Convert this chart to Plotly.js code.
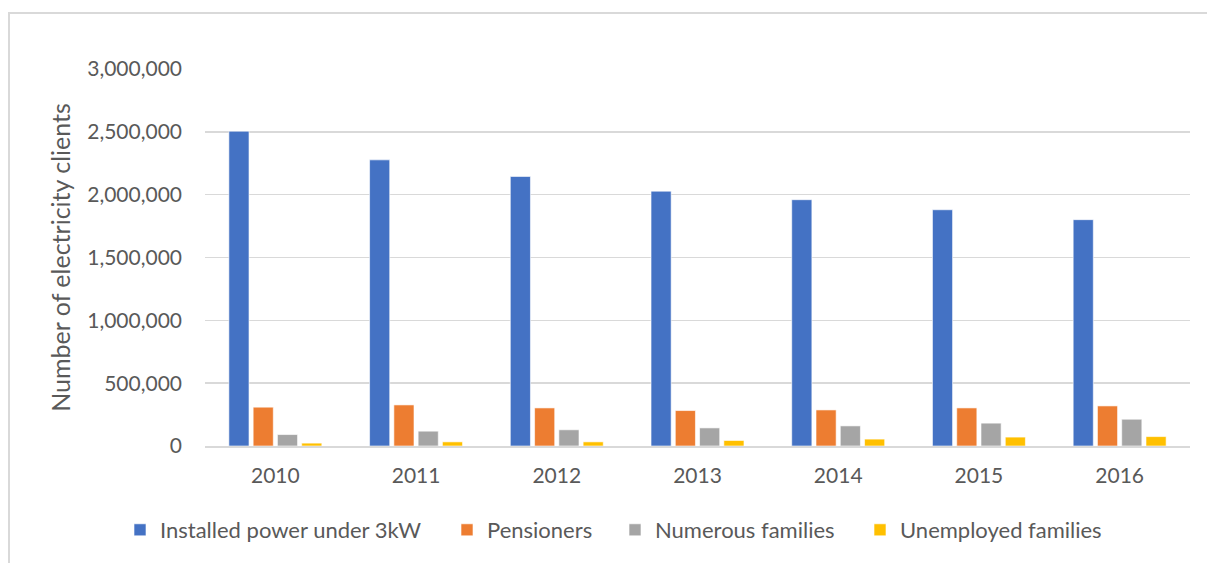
<!DOCTYPE html>
<html>
<head>
<meta charset="utf-8">
<script src="https://cdn.plot.ly/plotly-3.0.1.min.js"></script>
<style>
  html, body { margin: 0; padding: 0; background: #fff; }
  #wrap { position: relative; width: 1207px; height: 563px; overflow: hidden; }
  #frame { position: absolute; left: 8px; top: 12px; width: 1250px; height: 600px;
           border-left: 2px solid #d9d9d9; border-top: 2px solid #d9d9d9; box-sizing: border-box; pointer-events: none; z-index: 5; }
  #chart { position: absolute; left: 0; top: 0; width: 1207px; height: 563px; }
</style>
</head>
<body>
<div id="wrap">
  <div id="chart"></div>
  <div id="frame"></div>
</div>
<script>
const years = ["2010", "2011", "2012", "2013", "2014", "2015", "2016"];
const installedUnder3kW = [2505000, 2277000, 2145000, 2028000, 1960000, 1880000, 1801000];
const pensioners = [309000, 327000, 303000, 282000, 287000, 303000, 319000];
const numerousFamilies = [91000, 118000, 129000, 144000, 160000, 182000, 213000];
const unemployedFamilies = [23000, 33000, 33000, 44000, 55000, 71000, 75000];

const seriesNames = ["Installed power under 3kW", "Pensioners", "Numerous families", "Unemployed families"];
const seriesValues = [installedUnder3kW, pensioners, numerousFamilies, unemployedFamilies];
const seriesColors = ["#4472C4", "#ED7D31", "#A5A5A5", "#FFC000"];

const font = "Lato, 'Open Sans', sans-serif";
const textColor = "#595959";
const W = 1207, H = 563;
const legendLeft = [120, 447, 615, 860];
const legendIds = ["legend", "legend2", "legend3", "legend4"];

const traces = seriesNames.map((n, i) => ({
  type: "bar",
  name: n,
  x: years,
  y: seriesValues[i],
  legend: legendIds[i],
  marker: { color: seriesColors[i], line: { color: "rgba(255,255,255,0.6)", width: 1 } },
  hoverinfo: "x+y+name"
}));

const layout = {
  width: W,
  height: H,
  margin: { l: 205, r: 17, t: 69, b: 117 },
  paper_bgcolor: "#ffffff",
  plot_bgcolor: "#ffffff",
  barmode: "group",
  bargap: 0.31,
  bargroupgap: 0.17,
  font: { family: font, size: 21, color: textColor },
  showlegend: true,
  xaxis: {
    type: "category",
    showgrid: false,
    showline: true,
    linecolor: "#d9d9d9",
    linewidth: 2,
    ticks: "",
    tickfont: { family: font, size: 21, color: textColor },
    ticklabelstandoff: 10,
    zeroline: false
  },
  yaxis: {
    range: [0, 3000000],
    dtick: 500000,
    tick0: 0,
    tickformat: ",",
    showgrid: true,
    gridcolor: "#d9d9d9",
    gridwidth: 1.5,
    zeroline: false,
    showline: false,
    ticks: "",
    ticklabelstandoff: 22,
    tickfont: { family: font, size: 21, color: textColor },
    title: { text: "Number of electricity clients", font: { family: font, size: 25, color: textColor }, standoff: 9 }
  }
};

legendIds.forEach((id, i) => {
  layout[id] = {
    orientation: "h",
    x: legendLeft[i] / W, xanchor: "left", xref: "container",
    y: 1 - 530 / H, yanchor: "middle", yref: "container",
    font: { family: font, size: 22, color: textColor },
    itemwidth: 30,
    bgcolor: "rgba(0,0,0,0)"
  };
});

Plotly.newPlot("chart", traces, layout, { displayModeBar: false, staticPlot: true });
</script>
</body>
</html>
